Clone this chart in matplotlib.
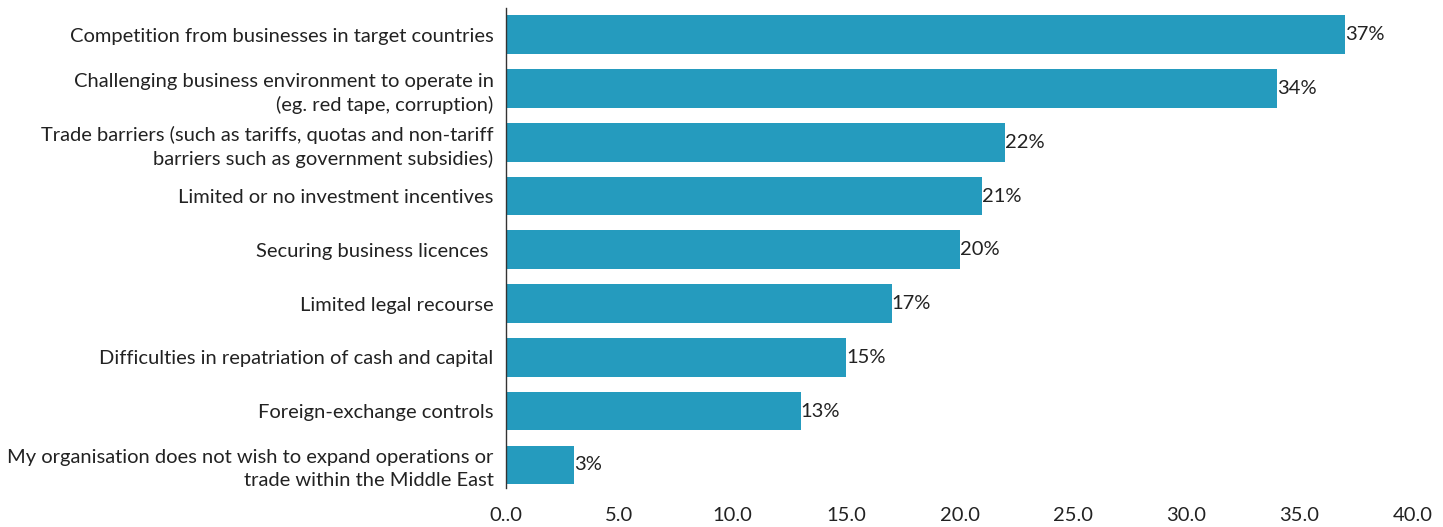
import matplotlib
matplotlib.use("Agg")
import matplotlib.pyplot as plt

categories = [
    "Competition from businesses in target countries",
    "Challenging business environment to operate in\n(eg. red tape, corruption)",
    "Trade barriers (such as tariffs, quotas and non-tariff\nbarriers such as government subsidies)",
    "Limited or no investment incentives",
    "Securing business licences ",
    "Limited legal recourse",
    "Difficulties in repatriation of cash and capital",
    "Foreign-exchange controls",
    "My organisation does not wish to expand operations or\ntrade within the Middle East",
]
values = [37, 34, 22, 21, 20, 17, 15, 13, 3]
x_ticks = [0, 5, 10, 15, 20, 25, 30, 35, 40]
x_tick_labels = ["0..0", "5.0", "10.0", "15.0", "20.0", "25.0", "30.0", "35.0", "40.0"]

plt.rcParams["font.family"] = ["Lato", "DejaVu Sans"]
text_color = "#222222"
bar_color = "#259bbe"
fs = 14.5

fig = plt.figure(figsize=(14.43, 5.27), dpi=100)
ax = fig.add_axes([0.3507, 0.074, 0.6285, 0.911])

pos = list(range(len(categories)))
ax.barh(pos, values, height=0.72, color=bar_color)
for p, v in zip(pos, values):
    ax.text(v, p, f"{v}%", va="center", ha="left", fontsize=fs, color=text_color)

ax.set_xlim(0, 40)
ax.set_ylim(8.43, -0.5)
ax.set_yticks(pos)
ax.set_yticklabels(categories, fontsize=fs, color=text_color, linespacing=1.4)
ax.set_xticks(x_ticks)
ax.set_xticklabels(x_tick_labels, fontsize=fs, color=text_color)
ax.tick_params(axis="both", length=0)
ax.tick_params(axis="y", pad=9)
ax.tick_params(axis="x", pad=14)

for s in ["top", "right", "bottom"]:
    ax.spines[s].set_visible(False)
ax.spines["left"].set_color("#333333")
ax.spines["left"].set_linewidth(1.0)

fig.savefig("out.png", dpi=100)
